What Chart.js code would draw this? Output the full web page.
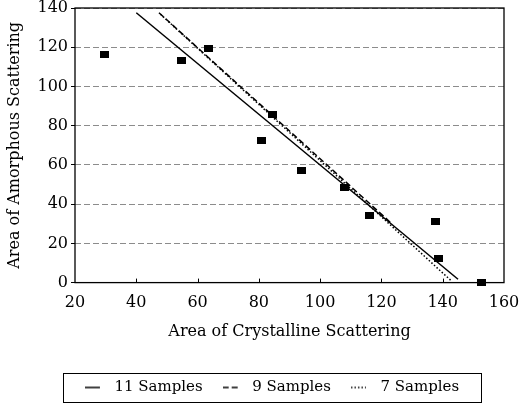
<!DOCTYPE html>
<html>
<head>
<meta charset="utf-8">
<script src="https://cdn.jsdelivr.net/npm/chart.js@4.4.1/dist/chart.umd.min.js"></script>
<style>
html,body{margin:0;padding:0;background:#fff;}
#wrap{width:530px;height:410px;}
</style>
</head>
<body>
<div id="wrap"><canvas id="c" width="530" height="410"></canvas></div>
<script>
// ---- data ----
const crystalline = [29.7, 54.7, 63.7, 81, 84.5, 94, 108, 116, 137.5, 138.5, 152.5];
const amorphous   = [116.5, 113, 119.5, 72.5, 85.5, 57.3, 48.7, 34, 31.3, 12.3, 0];

const seriesNames = ['11 Samples', '9 Samples', '7 Samples'];
const fit11X = [40, 145];
const fit11Y = [137.6, 1.7];
const fit9X  = [47.4, 123];
const fit9Y  = [137.6, 30.6];
const fit7X  = [47.9, 142.8];
const fit7Y  = [136.8, 0.9];

const xTicks = [20, 40, 60, 80, 100, 120, 140, 160];
const yTicks = [0, 20, 40, 60, 80, 100, 120, 140];

const xTitle = 'Area of Crystalline Scattering';
const yTitle = 'Area of Amorphous Scattering';

// ---- styles ----
const FONT = 'DejaVu Serif';
const dashes = [[], [6, 3], [1.5, 2]];

function markerImg(w, h) {
  const c = document.createElement('canvas');
  c.width = w; c.height = h;
  const g = c.getContext('2d');
  g.fillStyle = '#000';
  g.fillRect(0, 0, w, h);
  return c;
}
function legendImg(dash) {
  const c = document.createElement('canvas');
  c.width = 22; c.height = 4;
  const g = c.getContext('2d');
  g.strokeStyle = '#000';
  g.lineWidth = 1.5;
  g.setLineDash(dash);
  g.beginPath(); g.moveTo(0, 2); g.lineTo(15, 2); g.stroke();
  return c;
}
const legendImgs = dashes.map(legendImg);

function pts(xs, ys) { return xs.map((x, i) => ({x: x, y: ys[i]})); }

const fits = [[fit11X, fit11Y], [fit9X, fit9Y], [fit7X, fit7Y]];
const lineSets = fits.map((f, i) => ({
  type: 'line',
  label: seriesNames[i],
  data: pts(f[0], f[1]),
  borderColor: '#000',
  borderWidth: 1.5,
  borderDash: dashes[i],
  pointRadius: 0,
  showLine: true,
  fill: false,
  tension: 0,
  clip: false
}));

const framePlugin = {
  id: 'frame',
  afterLayout(chart) {
    const lg = chart.legend;
    lg.left += 20; lg.right += 20;
  },
  afterDraw(chart) {
    const ctx = chart.ctx, a = chart.chartArea, xs = chart.scales.x;
    ctx.save();
    ctx.strokeStyle = '#000';
    ctx.lineWidth = 1.3;
    ctx.setLineDash([]);
    ctx.strokeRect(a.left, a.top, a.right - a.left, a.bottom - a.top);
    ctx.lineWidth = 1;
    xTicks.slice(1, -1).forEach(v => {
      const px = Math.round(xs.getPixelForValue(v)) + 0.5;
      ctx.beginPath(); ctx.moveTo(px, a.bottom); ctx.lineTo(px, a.bottom - 4); ctx.stroke();
    });
    // legend frame
    const lg = chart.legend;
    const pad = lg.options.labels.padding;
    const rowW = lg.lineWidths[0] - pad;
    const startX = (lg.left + pad + lg.right - lg.lineWidths[0]) / 2;
    const itemTop = lg.top + pad;
    const itemH = lg._itemHeight || 15;
    ctx.lineWidth = 1;
    ctx.strokeRect(Math.round(startX - 22) + 0.5, Math.round(itemTop - 7) + 0.5,
                   Math.round(rowW + 44), Math.round(itemH + 14));
    ctx.restore();
  }
};

new Chart(document.getElementById('c'), {
  type: 'scatter',
  data: {
    datasets: [{
      label: 'data',
      data: pts(crystalline, amorphous),
      pointStyle: markerImg(9, 7),
      pointRadius: 5,
      backgroundColor: '#000',
      borderColor: '#000',
      clip: false
    }].concat(lineSets)
  },
  options: {
    responsive: false,
    animation: false,
    devicePixelRatio: 1,
    layout: { padding: { top: 0, right: 26, bottom: 5, left: 0 } },
    plugins: {
      tooltip: { enabled: false },
      legend: {
        position: 'bottom',
        labels: {
          usePointStyle: true,
          pointStyleWidth: 22,
          boxHeight: 4,
          padding: 20,
          color: '#000',
          font: { family: FONT, size: 15 },
          generateLabels: chart => chart.data.datasets.slice(1).map((ds, i) => ({
            text: ds.label,
            pointStyle: legendImgs[i],
            fillStyle: '#000',
            strokeStyle: '#000',
            fontColor: '#000',
            lineWidth: 0,
            hidden: false,
            datasetIndex: i + 1
          }))
        }
      }
    },
    scales: {
      x: {
        type: 'linear',
        min: xTicks[0], max: xTicks[xTicks.length - 1],
        afterBuildTicks: s => { s.ticks = xTicks.map(v => ({value: v})); },
        ticks: { color: '#000', font: { family: FONT, size: 16 }, padding: 3, maxRotation: 0 },
        grid: { display: false },
        border: { display: false },
        title: { display: true, text: xTitle, color: '#000', font: { family: FONT, size: 16 }, padding: { top: 6, bottom: 19 } }
      },
      y: {
        type: 'linear',
        min: yTicks[0], max: yTicks[yTicks.length - 1],
        afterBuildTicks: s => { s.ticks = yTicks.map(v => ({value: v})); },
        ticks: { color: '#000', font: { family: FONT, size: 16 }, padding: 3 },
        grid: { color: '#8c8c8c', lineWidth: 1, drawTicks: true, tickLength: 4, tickColor: '#000' },
        border: { display: false, dash: [6, 3] },
        title: { display: true, text: yTitle, color: '#000', font: { family: FONT, size: 16 }, padding: { top: 5, bottom: 0 } },
        afterFit: s => { s.width = 75; s.paddingTop = 8; }
      }
    }
  },
  plugins: [framePlugin]
});
</script>
</body>
</html>
